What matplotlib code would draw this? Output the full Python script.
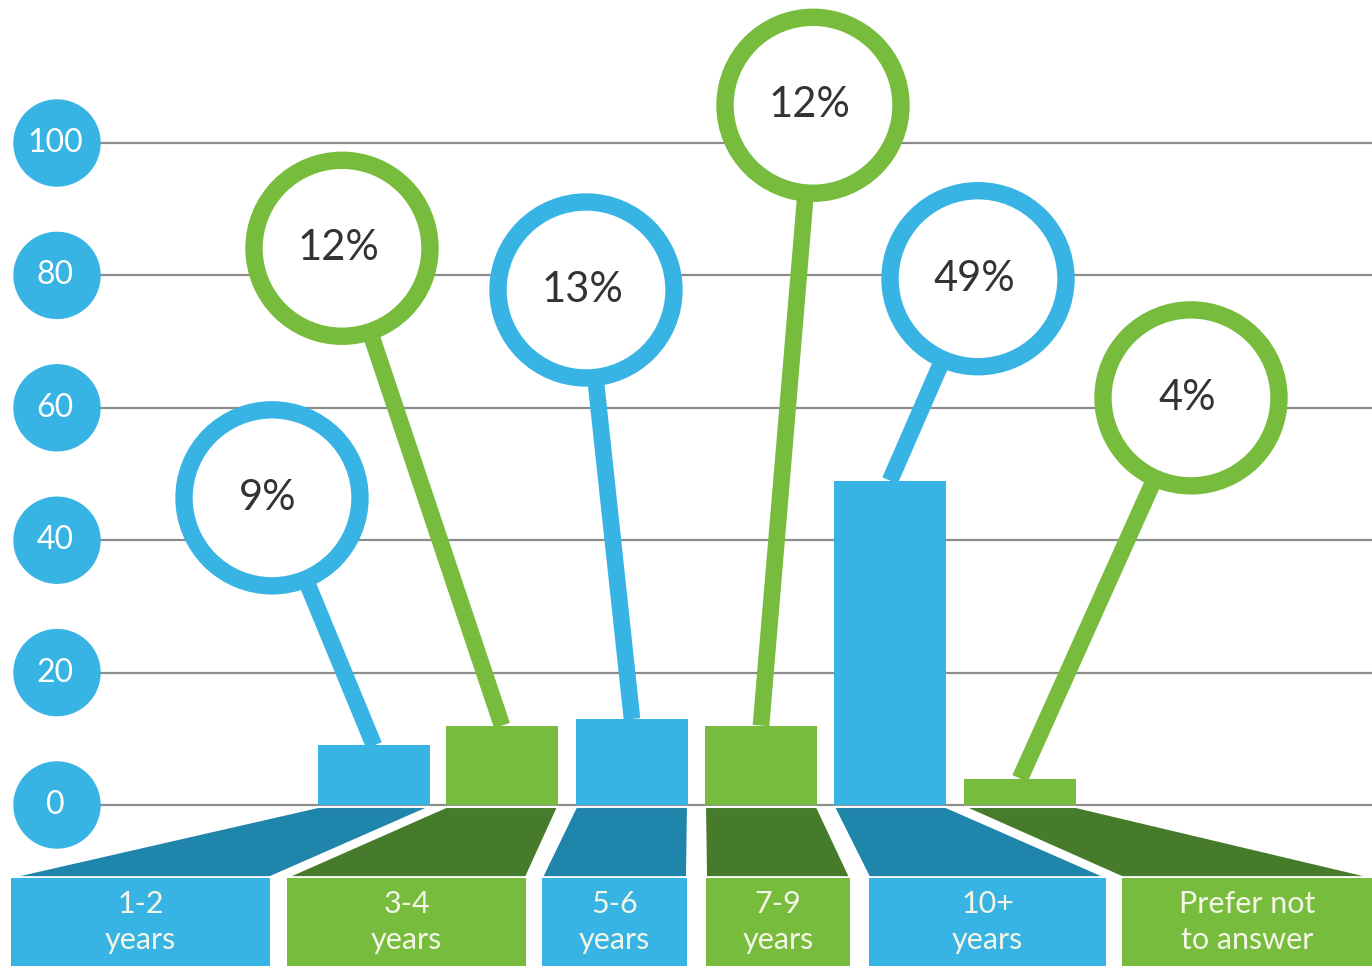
import matplotlib
matplotlib.use("Agg")
import matplotlib.pyplot as plt
from matplotlib.patches import Ellipse, Polygon, Rectangle

plt.rcParams['font.family'] = ['Lato', 'DejaVu Sans']

# survey answers (percent of respondents)
categories = ['1-2\nyears', '3-4\nyears', '5-6\nyears', '7-9\nyears', '10+\nyears', 'Prefer not\nto answer']
values = [9, 12, 13, 12, 49, 4]
pct_labels = ['9%', '12%', '13%', '12%', '49%', '4%']
yticks = [0, 20, 40, 60, 80, 100]

# colours alternate blue / green
light = ['#37b3e4', '#77bc3c'] * 3
dark = ['#1f85aa', '#467b2b'] * 3

# layout (x in pixels, y in value units)
PX = 6.62                      # pixels per value unit
bar_x = [374, 502, 632, 761, 890, 1020]
bar_w = 112
bubble_xy = [(272, 46.4), (342, 84.1), (586, 77.8), (813, 105.7), (978, 79.5), (1191, 61.5)]
box_x = [(11, 270), (287, 526), (542, 687), (706, 850), (869, 1106), (1122, 1372)]
band_top = -0.3
band_bottom = -10.9

fig = plt.figure(figsize=(13.72, 9.66), dpi=100)
ax = fig.add_axes([0, 0, 1, 1])
ax.set_xlim(0, 1372)
ax.set_ylim(-161 / PX, 805 / PX)
ax.axis('off')

# grid lines and round tick badges
for t in yticks:
    ax.plot([98, 1372], [t, t], color='#8c8c8c', lw=1.6, zorder=1)
    ax.add_patch(Ellipse((57, t), 86, 86 / PX, color=light[0], zorder=2))
    ax.text(55, t, str(t), ha='center', va='center', color='white', fontsize=23, zorder=3)

# bars
ax.bar(bar_x, values, width=bar_w, color=light, zorder=4)

# stems from bar top to bubble
for i, v in enumerate(values):
    bx, by = bubble_xy[i]
    ax.plot([bar_x[i], bx], [v, by], color=light[i], lw=12, solid_capstyle='butt', zorder=5)

# bubbles with percentages
r = 88
for i, lab in enumerate(pct_labels):
    bx, by = bubble_xy[i]
    ax.add_patch(Ellipse((bx, by), 2 * r, 2 * r / PX, facecolor='white',
                         edgecolor=light[i], lw=12.5, zorder=6))
    ax.text(bx - 4, by, lab, ha='center', va='center', fontsize=30, color='#333333', zorder=7)

# dark connectors and category boxes
for i, cat in enumerate(categories):
    x0, x1 = bar_x[i] - bar_w / 2, bar_x[i] + bar_w / 2
    b0, b1 = box_x[i]
    ax.add_patch(Polygon([(x0, band_top), (x1, band_top), (b1, band_bottom), (b0, band_bottom)],
                         closed=True, facecolor=dark[i], edgecolor='white', lw=1.5, zorder=4))
    ax.add_patch(Rectangle((b0, band_bottom - 0.2), b1 - b0, -20, facecolor=light[i],
                           edgecolor='none', zorder=4))
    ax.text((b0 + b1) / 2, band_bottom - 6.8, cat, ha='center', va='center', fontsize=22,
            color='#f3f6e6', linespacing=1.35, zorder=5)

fig.savefig('out.png', dpi=100)
